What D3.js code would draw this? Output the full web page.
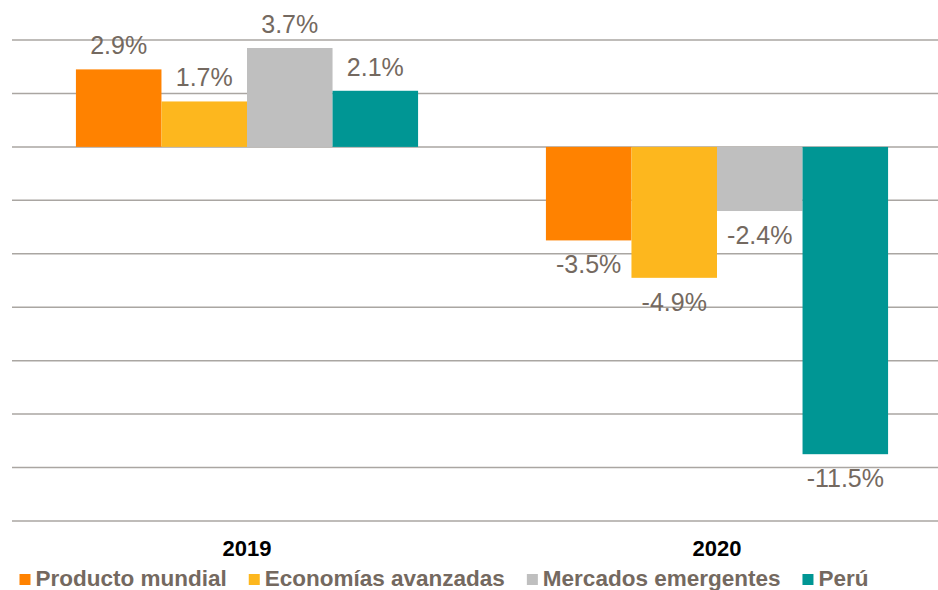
<!DOCTYPE html>
<meta charset="utf-8">
<script src="https://d3js.org/d3.v7.min.js"></script>
<style>
    body {margin: 0; background: #fff; font-family: 'Liberation Sans', Arial, sans-serif;}
</style>
<body>
<svg width="938" height="590"></svg>
<script>
    const years = ["2019", "2020"];
    const series = ["Producto mundial", "Economías avanzadas", "Mercados emergentes", "Perú"];
    const colors = ["#ff8200", "#fdb71e", "#bfbfbf", "#009694"];
    const values2019 = [2.9, 1.7, 3.7, 2.1];
    const values2020 = [-3.5, -4.9, -2.4, -11.5];
    const yTicks = [4, 2, 0, -2, -4, -6, -8, -10, -12, -14];

    const valuesByYear = {"2019": values2019, "2020": values2020};
    var data = [];
    years.forEach(function(yr){
        series.forEach(function(s, i){
            data.push({year: yr, series: s, value: valuesByYear[yr][i]});
        });
    });

    var svg = d3.select("svg"),
        width = +svg.attr("width"),
        height = +svg.attr("height");

    var y = d3.scaleLinear().domain([-14, 4]).range([521, 40]);
    var x0 = d3.scaleBand().domain(years).range([12, 952])
        .paddingInner(0.272).paddingOuter(0.136);
    var x1 = d3.scaleBand().domain(series).range([0, x0.bandwidth()]);
    var color = d3.scaleOrdinal().domain(series).range(colors);
    var textColor = "#746960";

    // gridlines
    svg.append("g")
        .selectAll("line")
        .data(yTicks)
        .enter().append("line")
        .attr("x1", 12)
        .attr("x2", width)
        .attr("y1", d => y(d))
        .attr("y2", d => y(d))
        .style("stroke", "#aaa6a2")
        .style("stroke-width", 1.5);

    // bars
    svg.append("g")
        .selectAll("rect")
        .data(data)
        .enter().append("rect")
        .attr("x", d => x0(d.year) + x1(d.series))
        .attr("width", x1.bandwidth())
        .attr("y", d => y(Math.max(0, d.value)))
        .attr("height", d => Math.abs(y(d.value) - y(0)))
        .style("fill", d => color(d.series));

    // value labels
    svg.append("g")
        .selectAll("text")
        .data(data)
        .enter().append("text")
        .attr("x", d => x0(d.year) + x1(d.series) + x1.bandwidth() / 2)
        .attr("y", d => d.value >= 0 ? y(d.value) - 15 : y(d.value) + 33)
        .attr("text-anchor", "middle")
        .style("font-size", "25px")
        .style("fill", textColor)
        .text(d => d.value.toFixed(1) + "%");

    // category axis labels
    svg.append("g")
        .selectAll("text")
        .data(years)
        .enter().append("text")
        .attr("x", d => x0(d) + x0.bandwidth() / 2)
        .attr("y", 556)
        .attr("text-anchor", "middle")
        .style("font-size", "22px")
        .style("font-weight", "bold")
        .style("fill", "#000")
        .text(d => d);

    // legend
    var legend = svg.append("g");
    var items = legend.selectAll("g")
        .data(series)
        .enter().append("g");
    items.append("rect")
        .attr("width", 11)
        .attr("height", 11)
        .attr("y", 574)
        .style("fill", d => color(d));
    items.append("text")
        .attr("x", 16)
        .attr("y", 585.5)
        .style("font-size", "22.5px")
        .style("font-weight", "bold")
        .style("fill", textColor)
        .text(d => d);
    var cx = 0, gap = 22, offsets = [];
    items.each(function(){
        offsets.push(cx);
        cx += this.getBBox().width + gap;
    });
    var total = cx - gap;
    var start = 444 - total / 2;
    items.attr("transform", (d, i) => "translate(" + (start + offsets[i]) + ",0)");
</script>
</body>
